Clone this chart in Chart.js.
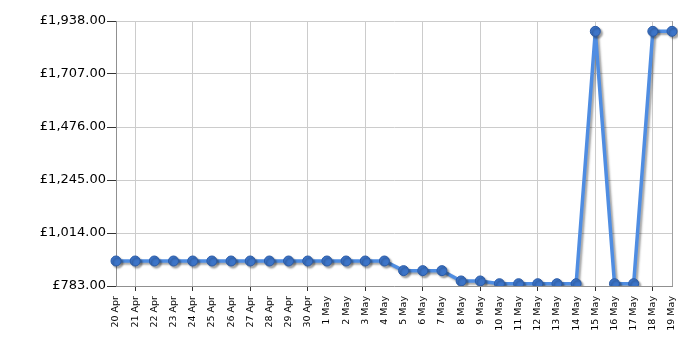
<!DOCTYPE html>
<html>
<head>
<meta charset="utf-8">
<script src="https://cdn.jsdelivr.net/npm/chart.js@4"></script>
<style>
  html, body { margin: 0; padding: 0; background: #fff; }
  #wrap { width: 700px; height: 350px; }
</style>
</head>
<body>
<div id="wrap"><canvas id="priceChart" width="700" height="350"></canvas></div>
<script>
const dates = ["20 Apr", "21 Apr", "22 Apr", "23 Apr", "24 Apr", "25 Apr", "26 Apr", "27 Apr", "28 Apr", "29 Apr", "30 Apr",
  "1 May", "2 May", "3 May", "4 May", "5 May", "6 May", "7 May", "8 May", "9 May", "10 May", "11 May", "12 May",
  "13 May", "14 May", "15 May", "16 May", "17 May", "18 May", "19 May"];
const prices = [892, 892, 892, 892, 892, 892, 892, 892, 892, 892, 892,
  892, 892, 892, 892, 850, 850, 850, 805, 805, 793, 793, 793,
  793, 793, 1893, 793, 793, 1893, 1893];
const yTicks = [783, 1014, 1245, 1476, 1707, 1938];

// grey drop shadow under the line and points
const shadowPlugin = {
  id: "shadow",
  beforeDatasetsDraw(chart) {
    const ctx = chart.ctx;
    ctx.save();
    ctx.shadowColor = "rgba(0,0,0,0.35)";
    ctx.shadowOffsetX = 2;
    ctx.shadowOffsetY = 2;
    ctx.shadowBlur = 2;
  },
  afterDatasetsDraw(chart) {
    chart.ctx.restore();
  }
};

// right-hand border of the plot area
const borderPlugin = {
  id: "plotBorder",
  beforeDatasetsDraw(chart) {
    const { ctx, chartArea } = chart;
    ctx.save();
    ctx.strokeStyle = "#a0a0a0";
    ctx.lineWidth = 1;
    ctx.beginPath();
    ctx.moveTo(Math.round(chartArea.right) + 0.5, chartArea.top);
    ctx.lineTo(Math.round(chartArea.right) + 0.5, chartArea.bottom);
    ctx.stroke();
    ctx.restore();
  }
};

const fmt = v => "£" + v.toLocaleString("en-GB", { minimumFractionDigits: 2, maximumFractionDigits: 2 });

new Chart(document.getElementById("priceChart").getContext("2d"), {
  type: "line",
  data: {
    labels: dates,
    datasets: [{
      data: prices,
      borderColor: "#4f8de2",
      borderWidth: 3.5,
      pointRadius: 5,
      pointHoverRadius: 5,
      pointBackgroundColor: "#3c74c8",
      pointBorderColor: "#2b5ba6",
      pointBorderWidth: 1,
      tension: 0,
      fill: false
    }]
  },
  options: {
    responsive: false,
    animation: false,
    layout: { padding: { top: 21, right: 28, left: 0, bottom: 0 } },
    plugins: { legend: { display: false }, tooltip: { enabled: false } },
    scales: {
      x: {
        offset: false,
        border: { color: "#909090" },
        grid: {
          color: c => (c.index % 3 === 1 ? "#cccccc" : "transparent"),
          tickColor: c => (c.index % 3 === 1 ? "#333333" : "transparent"),
          tickLength: 5
        },
        ticks: {
          autoSkip: false,
          maxRotation: 90,
          minRotation: 90,
          padding: 5,
          color: "#000",
          font: { family: "DejaVu Sans", size: 9.5 }
        },
        afterFit: s => { s.height = 64; }
      },
      y: {
        min: 783,
        max: 1938,
        border: { color: "#909090" },
        grid: { color: "#cccccc", tickColor: "#333333", tickLength: 9 },
        afterBuildTicks: s => { s.ticks = yTicks.map(v => ({ value: v })); },
        ticks: {
          padding: 1,
          color: "#000",
          font: { family: "DejaVu Sans", size: 13 },
          callback: v => fmt(v)
        },
        afterFit: s => { s.width = 116; }
      }
    }
  },
  plugins: [borderPlugin, shadowPlugin]
});
</script>
</body>
</html>
